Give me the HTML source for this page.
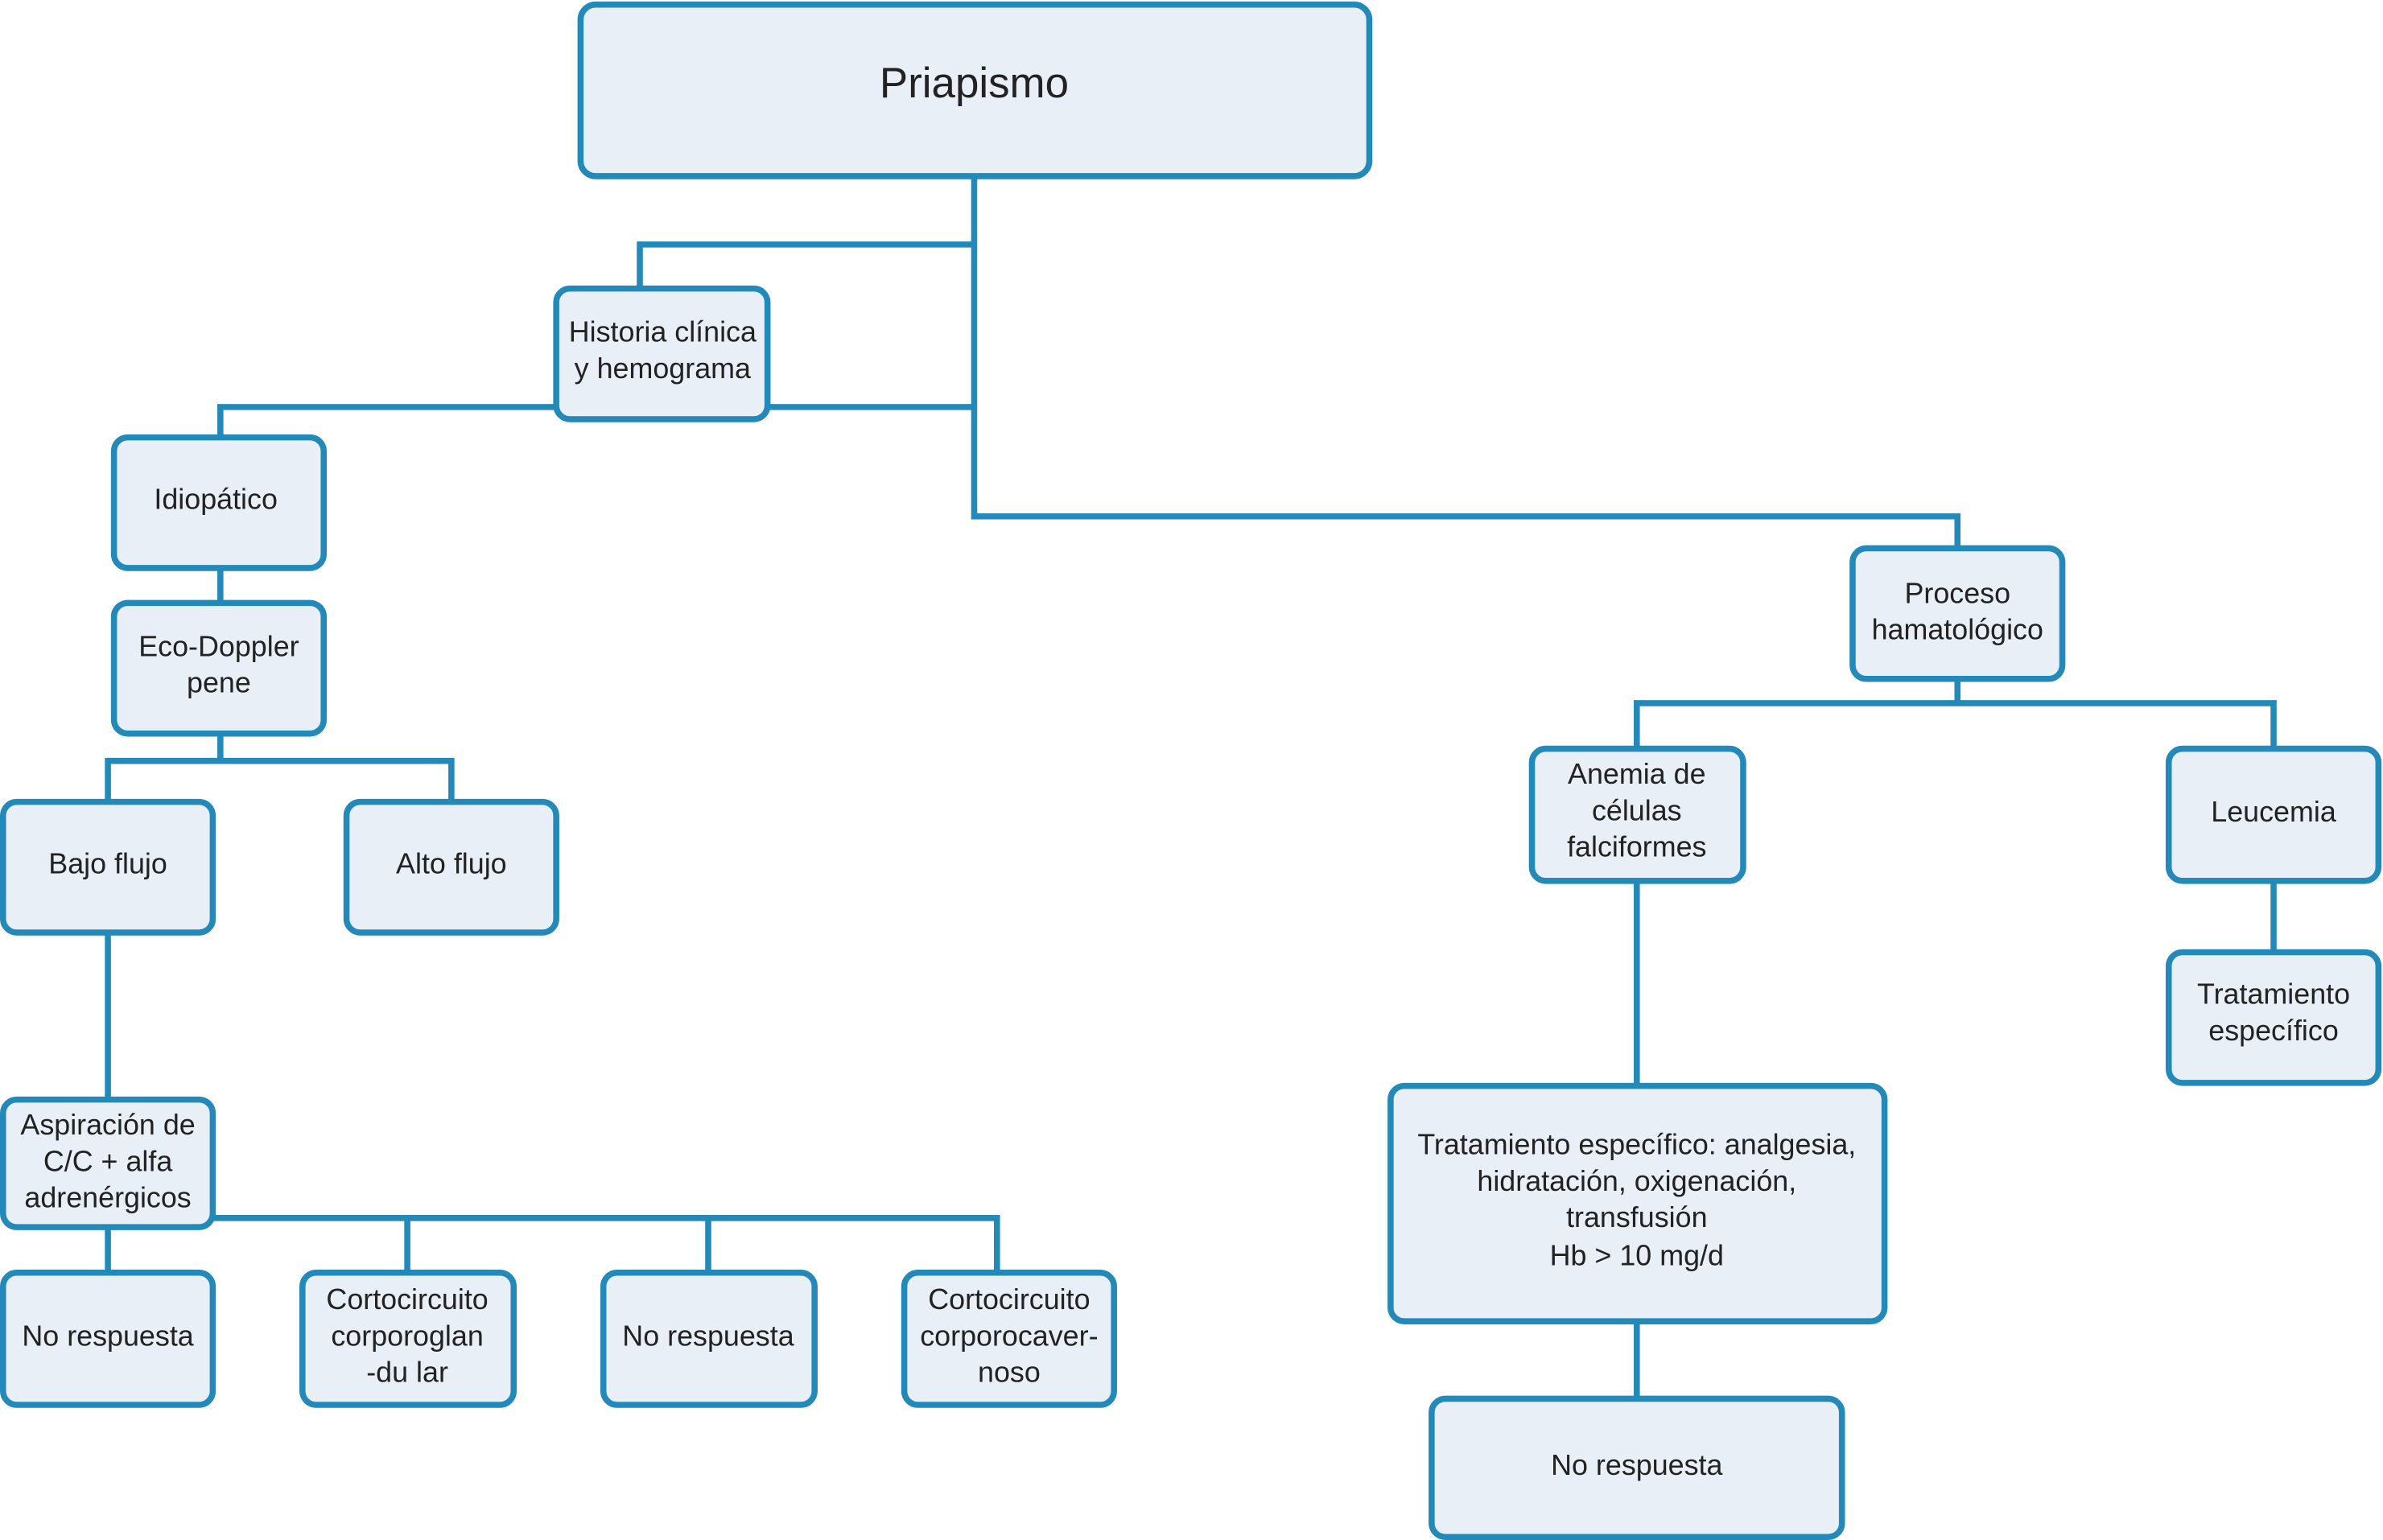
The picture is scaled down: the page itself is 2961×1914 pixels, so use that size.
<!DOCTYPE html>
<html><head><meta charset="utf-8"><style>
html,body{margin:0;padding:0;background:#fff;}
svg{display:block;}
text{font-family:"Liberation Sans",Arial,sans-serif;fill:#222;text-anchor:middle;font-size:19px;}
</style></head><body>
<svg width="2961" height="1914" viewBox="0 0 1568 1014" preserveAspectRatio="none" xmlns="http://www.w3.org/2000/svg">
<g stroke="#2389b8" stroke-width="4" fill="none">
<path d="M641 116V340H1288V361"/>
<path d="M641 161H421V190"/>
<path d="M505 268H641"/>
<path d="M366 268H145V288"/>
<path d="M145 374V397"/>
<path d="M145 483V501"/>
<path d="M71 528V501H297V528"/>
<path d="M71 614V724"/>
<path d="M140 802H656V838"/>
<path d="M71 808V838"/>
<path d="M268 802V838"/>
<path d="M466 802V838"/>
<path d="M1288 447V463"/>
<path d="M1077 493V463H1496V493"/>
<path d="M1077 580V715"/>
<path d="M1077 870V921"/>
<path d="M1496 580V627"/>
</g>
<g stroke="#2389b8" stroke-width="4" fill="#e9eff6">
<rect x="382" y="3" width="519" height="113" rx="10"/>
<rect x="366" y="190" width="139" height="86" rx="9"/>
<rect x="75" y="288" width="138" height="86" rx="9"/>
<rect x="75" y="397" width="138" height="86" rx="9"/>
<rect x="2" y="528" width="138" height="86" rx="9"/>
<rect x="228" y="528" width="138" height="86" rx="9"/>
<rect x="2" y="724" width="138" height="84" rx="9"/>
<rect x="2" y="838" width="138" height="87" rx="9"/>
<rect x="199" y="838" width="139" height="87" rx="9"/>
<rect x="397" y="838" width="139" height="87" rx="9"/>
<rect x="595" y="838" width="138" height="87" rx="9"/>
<rect x="1219" y="361" width="138" height="86" rx="9"/>
<rect x="1008" y="493" width="139" height="87" rx="9"/>
<rect x="1427" y="493" width="138" height="87" rx="9"/>
<rect x="1427" y="627" width="138" height="86" rx="9"/>
<rect x="915" y="715" width="325" height="155" rx="9"/>
<rect x="942" y="921" width="270" height="91" rx="9"/>
</g>
<text x="641" y="64" style="font-size:28px">Priapismo</text>
<text x="436" y="225">Historia clínica</text>
<text x="436" y="249">y hemograma</text>
<text x="142" y="335">Idiopático</text>
<text x="144" y="432">Eco-Doppler</text>
<text x="144" y="456">pene</text>
<text x="71" y="575">Bajo flujo</text>
<text x="297" y="575">Alto flujo</text>
<text x="71" y="747">Aspiración de</text>
<text x="71" y="771">C/C + alfa</text>
<text x="71" y="795">adrenérgicos</text>
<text x="71" y="886">No respuesta</text>
<text x="268" y="862">Cortocircuito</text>
<text x="268" y="886">corporoglan</text>
<text x="268" y="910">-du lar</text>
<text x="466" y="886">No respuesta</text>
<text x="664" y="862">Cortocircuito</text>
<text x="664" y="886">corporocaver-</text>
<text x="664" y="910">noso</text>
<text x="1288" y="397">Proceso</text>
<text x="1288" y="421">hamatológico</text>
<text x="1077" y="516">Anemia de</text>
<text x="1077" y="540">células</text>
<text x="1077" y="564">falciformes</text>
<text x="1496" y="541">Leucemia</text>
<text x="1496" y="661">Tratamiento</text>
<text x="1496" y="685">específico</text>
<text x="1077" y="760">Tratamiento específico: analgesia,</text>
<text x="1077" y="784">hidratación, oxigenación,</text>
<text x="1077" y="808">transfusión</text>
<text x="1077" y="833">Hb &gt;  10 mg/d</text>
<text x="1077" y="971">No respuesta</text>
</svg>
</body></html>
